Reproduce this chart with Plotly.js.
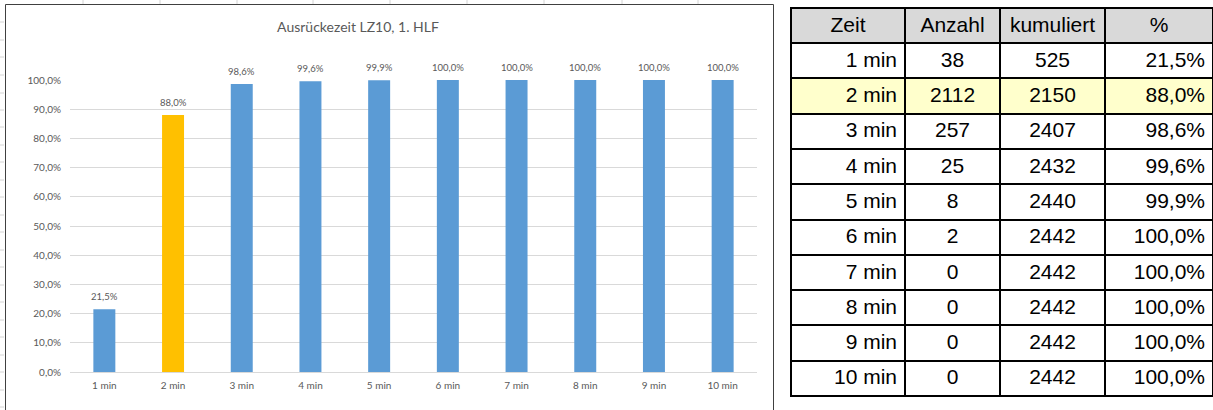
<!DOCTYPE html>
<html>
<head>
<meta charset="utf-8">
<script src="https://cdn.plot.ly/plotly-3.0.1.min.js"></script>
<style>
  html, body { margin: 0; padding: 0; background: #ffffff; }
  #chart { width: 1213px; height: 410px; }
</style>
</head>
<body>
<div id="chart"></div>
<script>
// Ausrückezeiten LZ10, 1. HLF
const zeit = ['1 min', '2 min', '3 min', '4 min', '5 min', '6 min', '7 min', '8 min', '9 min', '10 min'];
const anzahl = [38, 2112, 257, 25, 8, 2, 0, 0, 0, 0];
const kumuliert = [525, 2150, 2407, 2432, 2440, 2442, 2442, 2442, 2442, 2442];
const prozent = [0.215, 0.880, 0.986, 0.996, 0.999, 1.000, 1.000, 1.000, 1.000, 1.000];
const markiert = 1; // hervorgehobene Zeile / Säule (2 min)

const W = 1213, H = 410;
// Figur ohne Ränder: Papierkoordinaten entsprechen direkt Pixelanteilen
const fx = px => px / W;
const fy = py => 1 - py / H;

const blau = '#5b9bd5', gelb = '#ffc000', grau = '#595959';
const excelFont = 'Lato, "Open Sans", sans-serif';
const tabFont = '"Liberation Sans", Arial, sans-serif';

const barColors = zeit.map((_, i) => i === markiert ? gelb : blau);
const fmtPct = v => (v * 100).toFixed(1).replace('.', ',') + '%';

const bars = {
  type: 'bar',
  x: zeit,
  y: prozent,
  marker: { color: barColors, line: { width: 0 } },
  hoverinfo: 'x+y',
  showlegend: false
};

// Datenbeschriftungen über den Säulen
const labels = zeit.map((z, i) => ({
  x: z, y: prozent[i], xref: 'x', yref: 'y',
  text: fmtPct(prozent[i]),
  showarrow: false, yanchor: 'bottom', yshift: 5,
  font: { family: excelFont, size: 9.5, color: grau }
}));

const rowFill = zeit.map((_, i) => i === markiert ? '#ffffcc' : '#ffffff');
const table = {
  type: 'table',
  domain: { x: [fx(791), 1], y: [fy(397), fy(8)] },
  columnwidth: [114, 95, 105, 108],
  header: {
    values: ['Zeit', 'Anzahl', 'kumuliert', '%'],
    align: 'center',
    height: 35,
    fill: { color: '#d9d9d9' },
    line: { color: '#000000', width: 2 },
    font: { family: tabFont, size: 21, color: '#000000' }
  },
  cells: {
    values: [zeit, anzahl, kumuliert, prozent.map(fmtPct)],
    align: ['right', 'center', 'center', 'right'],
    height: 35.3,
    fill: { color: [rowFill, rowFill, rowFill, rowFill] },
    line: { color: '#000000', width: 2 },
    font: { family: tabFont, size: 21, color: '#000000' }
  }
};

// Rahmen des Diagrammbereichs und angedeutete Tabellenraster dahinter
const shapes = [];
[83, 160, 237, 313, 390, 467, 544, 622, 698].forEach(px => {
  shapes.push({ type: 'line', xref: 'paper', yref: 'paper', layer: 'below',
    x0: fx(px), x1: fx(px), y0: fy(0), y1: fy(4),
    line: { color: '#d4d4d4', width: 1 } });
});
[22, 40, 57, 75, 93, 110, 127, 145, 162, 180, 197, 215, 232, 250, 267, 285, 302, 320, 337, 355, 372, 390, 407].forEach(py => {
  shapes.push({ type: 'line', xref: 'paper', yref: 'paper', layer: 'below',
    x0: fx(0), x1: fx(4), y0: fy(py), y1: fy(py),
    line: { color: '#d4d4d4', width: 1 } });
});
shapes.push({ type: 'rect', xref: 'paper', yref: 'paper', layer: 'below',
  x0: fx(5.5), x1: fx(773.5), y0: fy(4.5), y1: fy(430),
  line: { color: '#404040', width: 1 }, fillcolor: 'rgba(0,0,0,0)' });

const layout = {
  width: W,
  height: H,
  margin: { l: 0, r: 0, t: 0, b: 0, pad: 0 },
  paper_bgcolor: '#ffffff',
  plot_bgcolor: '#ffffff',
  separators: ',.',
  bargap: 0.68,
  font: { family: excelFont, color: grau },
  title: {
    text: 'Ausrückezeit LZ10, 1. HLF',
    xref: 'paper', yref: 'paper',
    x: fx(358), y: fy(27),
    xanchor: 'center', yanchor: 'middle',
    font: { family: excelFont, size: 14, color: grau }
  },
  xaxis: {
    type: 'category',
    domain: [fx(70), fx(757)],
    showgrid: false,
    showline: false,
    zeroline: false,
    ticks: '',
    ticklabelstandoff: 6,
    tickfont: { family: excelFont, size: 10, color: grau }
  },
  yaxis: {
    domain: [fy(372), fy(80)],
    range: [0, 1],
    dtick: 0.1,
    tickformat: '.1%',
    showgrid: true,
    gridcolor: '#d9d9d9',
    gridwidth: 1,
    zeroline: true,
    zerolinecolor: '#d9d9d9',
    zerolinewidth: 1,
    showline: false,
    ticks: '',
    ticklabelstandoff: 8,
    tickfont: { family: excelFont, size: 10, color: grau }
  },
  annotations: labels,
  shapes: shapes
};

Plotly.newPlot('chart', [bars, table], layout, { displayModeBar: false, staticPlot: true });
</script>
</body>
</html>
